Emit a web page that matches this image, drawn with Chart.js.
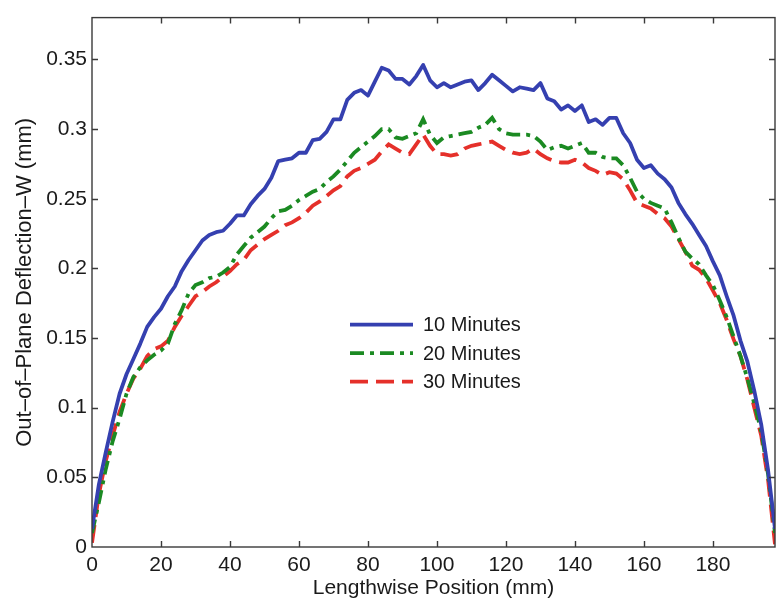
<!DOCTYPE html>
<html><head><meta charset="utf-8">
<script src="https://cdn.jsdelivr.net/npm/chart.js@4/dist/chart.umd.min.js"></script>
<style>html,body{margin:0;padding:0;background:#fff}</style>
</head><body>
<canvas id="c" width="778" height="609"></canvas>
<script>
const positions = [0,2,4,6,8,10,12,14,16,18,20,22,24,26,28,30,32,34,36,38,40,42,44,46,48,50,52,54,56,58,60,62,64,66,68,70,72,74,76,78,80,82,84,86,88,90,92,94,96,98,100,102,104,106,108,110,112,114,116,118,120,122,124,126,128,130,132,134,136,138,140,142,144,146,148,150,152,154,156,158,160,162,164,166,168,170,172,174,176,178,180,182,184,186,188,190,192,194,196,198];

const w10min = [0.013,0.045,0.068,0.090,0.110,0.124,0.135,0.146,0.158,0.165,0.171,0.180,0.187,0.198,0.206,0.213,0.220,0.224,0.226,0.227,0.232,0.238,0.238,0.246,0.252,0.257,0.265,0.277,0.278,0.279,0.283,0.283,0.292,0.293,0.298,0.307,0.307,0.321,0.326,0.328,0.324,0.334,0.344,0.342,0.336,0.336,0.332,0.338,0.346,0.335,0.330,0.333,0.330,0.332,0.334,0.335,0.328,0.333,0.339,0.335,0.331,0.327,0.330,0.329,0.328,0.333,0.322,0.320,0.314,0.317,0.313,0.317,0.305,0.307,0.303,0.308,0.308,0.297,0.290,0.278,0.272,0.274,0.268,0.264,0.258,0.247,0.239,0.232,0.224,0.216,0.205,0.195,0.180,0.166,0.148,0.133,0.112,0.088,0.055,0.013];

const w20min = [0.010,0.032,0.056,0.076,0.092,0.110,0.122,0.129,0.134,0.138,0.141,0.146,0.160,0.170,0.182,0.188,0.190,0.193,0.194,0.197,0.201,0.210,0.216,0.222,0.226,0.230,0.236,0.241,0.242,0.245,0.249,0.252,0.255,0.257,0.262,0.266,0.271,0.277,0.283,0.287,0.291,0.295,0.300,0.300,0.294,0.293,0.295,0.297,0.307,0.296,0.290,0.294,0.295,0.296,0.297,0.298,0.301,0.303,0.308,0.300,0.297,0.296,0.296,0.296,0.295,0.291,0.285,0.287,0.288,0.286,0.288,0.290,0.283,0.283,0.280,0.279,0.279,0.274,0.265,0.255,0.250,0.247,0.245,0.243,0.233,0.222,0.212,0.207,0.203,0.195,0.188,0.177,0.165,0.151,0.137,0.121,0.103,0.083,0.052,0.010];

const w30min = [0.003,0.038,0.062,0.080,0.097,0.110,0.121,0.128,0.137,0.142,0.144,0.148,0.158,0.166,0.173,0.180,0.183,0.187,0.190,0.194,0.198,0.203,0.206,0.213,0.217,0.221,0.224,0.227,0.231,0.233,0.236,0.240,0.245,0.248,0.252,0.256,0.259,0.266,0.270,0.272,0.275,0.278,0.284,0.289,0.286,0.283,0.282,0.289,0.296,0.288,0.282,0.282,0.281,0.282,0.286,0.288,0.289,0.290,0.291,0.288,0.285,0.283,0.282,0.283,0.286,0.282,0.279,0.277,0.276,0.276,0.278,0.276,0.272,0.270,0.267,0.269,0.268,0.264,0.256,0.247,0.245,0.243,0.239,0.236,0.230,0.221,0.212,0.202,0.199,0.193,0.184,0.175,0.163,0.149,0.137,0.120,0.100,0.080,0.048,0.002];

const seriesNames = ['10 Minutes','20 Minutes','30 Minutes'];
const xTitle = 'Lengthwise Position (mm)';
const yTitle = 'Out\u2013of\u2013Plane Deflection\u2013W (mm)';

const FONT = "'Liberation Sans', Arial, Helvetica, sans-serif";
const pts = arr => positions.map((x,i)=>({x:x, y:arr[i]}));

const framePlugin = {
  id:'frame',
  afterDatasetsDraw(chart){
    const {ctx, chartArea:a, scales:{x,y}} = chart;
    ctx.save();
    ctx.strokeStyle = '#3a3a3a';
    ctx.lineWidth = 1.4;
    ctx.strokeRect(a.left, a.top, a.right-a.left, a.bottom-a.top);
    const L = 6;
    ctx.beginPath();
    x.ticks.forEach(t=>{
      const px = Math.round(x.getPixelForValue(t.value))+0.5;
      if (px <= a.left+1 || px >= a.right-1) return;
      ctx.moveTo(px, a.bottom); ctx.lineTo(px, a.bottom-L);
      ctx.moveTo(px, a.top); ctx.lineTo(px, a.top+L);
    });
    y.ticks.forEach(t=>{
      const py = Math.round(y.getPixelForValue(t.value))+0.5;
      if (py >= a.bottom-1 || py <= a.top+1) return;
      ctx.moveTo(a.left, py); ctx.lineTo(a.left+L, py);
      ctx.moveTo(a.right, py); ctx.lineTo(a.right-L, py);
    });
    ctx.stroke();
    ctx.restore();
  }
};

const legendPlugin = {
  id:'innerLegend',
  afterDraw(chart){
    const {ctx, chartArea:a} = chart;
    const x0 = a.left + 258, x1 = a.left + 321, tx = a.left + 331;
    const y0 = a.top + 307, dy = 28.5;
    ctx.save();
    chart.data.datasets.forEach((ds,i)=>{
      const yy = y0 + i*dy;
      ctx.strokeStyle = ds.borderColor;
      ctx.lineWidth = ds.borderWidth;
      ctx.lineCap = 'butt';
      ctx.setLineDash(ds.borderDash || []);
      ctx.beginPath(); ctx.moveTo(x0, yy); ctx.lineTo(x1, yy); ctx.stroke();
      ctx.setLineDash([]);
      ctx.fillStyle = '#1a1a1a';
      ctx.font = "20px " + FONT;
      ctx.textBaseline = 'middle';
      ctx.fillText(ds.label, tx, yy+1);
    });
    ctx.restore();
  }
};

new Chart(document.getElementById('c'), {
  type:'line',
  data:{
    datasets:[
      {label:seriesNames[0], data:pts(w10min), borderColor:'#3540b0', borderWidth:3.8, pointRadius:0, tension:0, borderJoinStyle:'round'},
      {label:seriesNames[1], data:pts(w20min), borderColor:'#1b8a22', borderWidth:3.8, pointRadius:0, tension:0, borderDash:[14,6,4,6]},
      {label:seriesNames[2], data:pts(w30min), borderColor:'#e5302a', borderWidth:3.8, pointRadius:0, tension:0, borderDash:[18,8]}
    ]
  },
  options:{
    responsive:false,
    animation:false,
    devicePixelRatio:1,
    layout:{padding:{top:9,right:3,left:0,bottom:0}},
    plugins:{legend:{display:false}, tooltip:{enabled:false}},
    scales:{
      x:{
        type:'linear', min:0, max:198,
        grid:{display:false, drawTicks:false},
        border:{display:false},
        ticks:{stepSize:20, color:'#1a1a1a', font:{family:FONT, size:21}, padding:6, maxRotation:0},
        afterBuildTicks:s=>{ s.ticks = s.ticks.filter(t=>t.value % 20 === 0); },
        afterFit:s=>{ s.height = 62; },
        title:{display:true, text:xTitle, color:'#1a1a1a', font:{family:FONT, size:21}, padding:{top:0,bottom:8}}
      },
      y:{
        type:'linear', min:0, max:0.38,
        grid:{display:false, drawTicks:false},
        border:{display:false},
        ticks:{stepSize:0.05, color:'#1a1a1a', font:{family:FONT, size:21}, padding:5,
               callback:v=>String(parseFloat(Number(v).toFixed(4)))},
        afterBuildTicks:s=>{ s.ticks = s.ticks.filter(t=>Math.abs(t.value/0.05 - Math.round(t.value/0.05))<1e-6); },
        afterFit:s=>{ s.width = 92; },
        title:{display:true, text:yTitle, color:'#1a1a1a', font:{family:FONT, size:22}, padding:{top:12,bottom:0}}
      }
    }
  },
  plugins:[framePlugin, legendPlugin]
});
</script>
</body></html>
